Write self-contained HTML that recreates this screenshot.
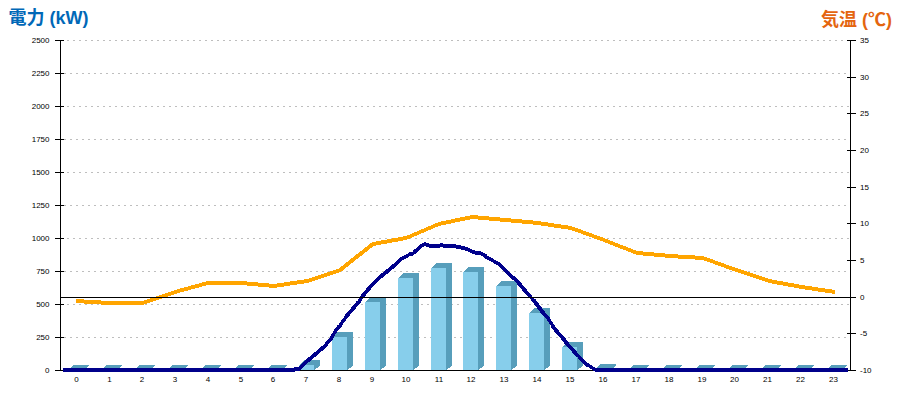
<!DOCTYPE html>
<html><head><meta charset="utf-8"><title>chart</title>
<style>html,body{margin:0;padding:0;background:#fff;}body{width:900px;height:400px;overflow:hidden;font-family:"Liberation Sans",sans-serif;}</style>
</head><body>
<svg width="900" height="400" viewBox="0 0 900 400" style="display:block">
<rect width="900" height="400" fill="#fff"/>
<g shape-rendering="crispEdges" stroke="#bebebe" stroke-width="1" stroke-dasharray="2 4">
<line x1="64" x2="850" y1="337.5" y2="337.5"/>
<line x1="67" x2="850" y1="304.5" y2="304.5"/>
<line x1="64" x2="850" y1="271.5" y2="271.5"/>
<line x1="67" x2="850" y1="238.5" y2="238.5"/>
<line x1="64" x2="850" y1="205.5" y2="205.5"/>
<line x1="67" x2="850" y1="172.5" y2="172.5"/>
<line x1="64" x2="850" y1="139.5" y2="139.5"/>
<line x1="67" x2="850" y1="106.5" y2="106.5"/>
<line x1="64" x2="850" y1="73.5" y2="73.5"/>
<line x1="67" x2="850" y1="40.5" y2="40.5"/>
</g>
<g shape-rendering="crispEdges">
<polygon fill="#579ebb" points="68,370 73.5,365 89.0,365 89.0,365.5 83,370.5 83,370"/>
<rect fill="#87ceeb" x="68" y="370" width="15" height="0.5"/>
<polygon fill="#579ebb" points="101,370 106.5,365 122.0,365 122.0,365.5 116,370.5 116,370"/>
<rect fill="#87ceeb" x="101" y="370" width="15" height="0.5"/>
<polygon fill="#579ebb" points="134,370 139.5,365 155.0,365 155.0,365.5 149,370.5 149,370"/>
<rect fill="#87ceeb" x="134" y="370" width="15" height="0.5"/>
<polygon fill="#579ebb" points="167,370 172.5,365 188.0,365 188.0,365.5 182,370.5 182,370"/>
<rect fill="#87ceeb" x="167" y="370" width="15" height="0.5"/>
<polygon fill="#579ebb" points="200,370 205.5,365 221.0,365 221.0,365.5 215,370.5 215,370"/>
<rect fill="#87ceeb" x="200" y="370" width="15" height="0.5"/>
<polygon fill="#579ebb" points="233,370 238.5,365 254.0,365 254.0,365.5 248,370.5 248,370"/>
<rect fill="#87ceeb" x="233" y="370" width="15" height="0.5"/>
<polygon fill="#579ebb" points="266,370 271.5,365 287.0,365 287.0,365.5 281,370.5 281,370"/>
<rect fill="#87ceeb" x="266" y="370" width="15" height="0.5"/>
<polygon fill="#579ebb" points="299,365 304.5,360 320.0,360 320.0,365.5 314,370.5 314,365"/>
<rect fill="#87ceeb" x="299" y="365" width="15" height="5.5"/>
<polygon fill="#579ebb" points="332,337 337.5,332 353.0,332 353.0,365.5 347,370.5 347,337"/>
<rect fill="#87ceeb" x="332" y="337" width="15" height="33.5"/>
<polygon fill="#579ebb" points="365,302 370.5,297 386.0,297 386.0,365.5 380,370.5 380,302"/>
<rect fill="#87ceeb" x="365" y="302" width="15" height="68.5"/>
<polygon fill="#579ebb" points="398,278 403.5,273 419.0,273 419.0,365.5 413,370.5 413,278"/>
<rect fill="#87ceeb" x="398" y="278" width="15" height="92.5"/>
<polygon fill="#579ebb" points="431,268 436.5,263 452.0,263 452.0,365.5 446,370.5 446,268"/>
<rect fill="#87ceeb" x="431" y="268" width="15" height="102.5"/>
<polygon fill="#579ebb" points="463,272 468.5,267 484.0,267 484.0,365.5 478,370.5 478,272"/>
<rect fill="#87ceeb" x="463" y="272" width="15" height="98.5"/>
<polygon fill="#579ebb" points="496,286 501.5,281 517.0,281 517.0,365.5 511,370.5 511,286"/>
<rect fill="#87ceeb" x="496" y="286" width="15" height="84.5"/>
<polygon fill="#579ebb" points="529,313 534.5,308 550.0,308 550.0,365.5 544,370.5 544,313"/>
<rect fill="#87ceeb" x="529" y="313" width="15" height="57.5"/>
<polygon fill="#579ebb" points="562,347 567.5,342 583.0,342 583.0,365.5 577,370.5 577,347"/>
<rect fill="#87ceeb" x="562" y="347" width="15" height="23.5"/>
<polygon fill="#579ebb" points="595,369 600.5,364 616.0,364 616.0,365.5 610,370.5 610,369"/>
<rect fill="#87ceeb" x="595" y="369" width="15" height="1.5"/>
<polygon fill="#579ebb" points="628,370 633.5,365 649.0,365 649.0,365.5 643,370.5 643,370"/>
<rect fill="#87ceeb" x="628" y="370" width="15" height="0.5"/>
<polygon fill="#579ebb" points="661,370 666.5,365 682.0,365 682.0,365.5 676,370.5 676,370"/>
<rect fill="#87ceeb" x="661" y="370" width="15" height="0.5"/>
<polygon fill="#579ebb" points="694,370 699.5,365 715.0,365 715.0,365.5 709,370.5 709,370"/>
<rect fill="#87ceeb" x="694" y="370" width="15" height="0.5"/>
<polygon fill="#579ebb" points="727,370 732.5,365 748.0,365 748.0,365.5 742,370.5 742,370"/>
<rect fill="#87ceeb" x="727" y="370" width="15" height="0.5"/>
<polygon fill="#579ebb" points="760,370 765.5,365 781.0,365 781.0,365.5 775,370.5 775,370"/>
<rect fill="#87ceeb" x="760" y="370" width="15" height="0.5"/>
<polygon fill="#579ebb" points="793,370 798.5,365 814.0,365 814.0,365.5 808,370.5 808,370"/>
<rect fill="#87ceeb" x="793" y="370" width="15" height="0.5"/>
<polygon fill="#579ebb" points="826,370 831.5,365 847.0,365 847.0,365.5 841,370.5 841,370"/>
<rect fill="#87ceeb" x="826" y="370" width="15" height="0.5"/>
</g>
<g shape-rendering="crispEdges" stroke="#000" stroke-width="1" fill="none">
<line x1="60.5" x2="60.5" y1="40" y2="371"/>
<line x1="850.5" x2="850.5" y1="40" y2="371"/>
<line x1="60" x2="851" y1="370.5" y2="370.5"/>
<line x1="55" x2="64" y1="370.5" y2="370.5"/>
<line x1="55" x2="64" y1="337.5" y2="337.5"/>
<line x1="55" x2="64" y1="304.5" y2="304.5"/>
<line x1="55" x2="64" y1="271.5" y2="271.5"/>
<line x1="55" x2="64" y1="238.5" y2="238.5"/>
<line x1="55" x2="64" y1="205.5" y2="205.5"/>
<line x1="55" x2="64" y1="172.5" y2="172.5"/>
<line x1="55" x2="64" y1="139.5" y2="139.5"/>
<line x1="55" x2="64" y1="106.5" y2="106.5"/>
<line x1="55" x2="64" y1="73.5" y2="73.5"/>
<line x1="55" x2="64" y1="40.5" y2="40.5"/>
<line x1="847" x2="856" y1="370.5" y2="370.5"/>
<line x1="847" x2="856" y1="333.5" y2="333.5"/>
<line x1="847" x2="856" y1="297.5" y2="297.5"/>
<line x1="847" x2="856" y1="260.5" y2="260.5"/>
<line x1="847" x2="856" y1="223.5" y2="223.5"/>
<line x1="847" x2="856" y1="187.5" y2="187.5"/>
<line x1="847" x2="856" y1="150.5" y2="150.5"/>
<line x1="847" x2="856" y1="113.5" y2="113.5"/>
<line x1="847" x2="856" y1="77.5" y2="77.5"/>
<line x1="847" x2="856" y1="40.5" y2="40.5"/>
</g>
<path shape-rendering="crispEdges" fill="#ffa500" fill-rule="nonzero" d="M76.00 299.00L109.00 301.00L109.00 305.00L76.00 303.00ZM109.00 301.00L142.00 301.00L142.00 305.00L109.00 305.00ZM142.00 301.00L175.00 290.00L175.00 294.00L142.00 305.00ZM175.00 290.00L208.00 281.00L208.00 285.00L175.00 294.00ZM208.00 281.00L241.00 281.00L241.00 285.00L208.00 285.00ZM241.00 281.00L274.00 284.00L274.00 288.00L241.00 285.00ZM274.00 284.00L307.00 279.00L307.00 283.00L274.00 288.00ZM307.00 279.00L340.00 268.00L340.00 272.00L307.00 283.00ZM340.00 267.50L373.00 241.50L373.00 246.50L340.00 272.50ZM373.00 242.00L406.00 236.00L406.00 240.00L373.00 246.00ZM406.00 236.00L439.00 222.00L439.00 226.00L406.00 240.00ZM439.00 222.00L472.00 215.00L472.00 219.00L439.00 226.00ZM472.00 215.00L505.00 218.00L505.00 222.00L472.00 219.00ZM505.00 218.00L538.00 221.00L538.00 225.00L505.00 222.00ZM538.00 221.00L571.00 226.00L571.00 230.00L538.00 225.00ZM571.00 226.00L604.00 238.00L604.00 242.00L571.00 230.00ZM604.00 238.00L637.00 251.00L637.00 255.00L604.00 242.00ZM637.00 251.00L670.00 254.00L670.00 258.00L637.00 255.00ZM670.00 254.00L703.00 256.00L703.00 260.00L670.00 258.00ZM703.00 256.00L736.00 268.00L736.00 272.00L703.00 260.00ZM736.00 268.00L769.00 279.00L769.00 283.00L736.00 272.00ZM769.00 279.00L802.00 285.00L802.00 289.00L769.00 283.00ZM802.00 285.00L835.00 290.00L835.00 294.00L802.00 289.00ZM107.25 302.30L108.30 301.25L109.70 301.25L110.75 302.30L110.75 303.70L109.70 304.75L108.30 304.75L107.25 303.70ZM140.25 302.30L141.30 301.25L142.70 301.25L143.75 302.30L143.75 303.70L142.70 304.75L141.30 304.75L140.25 303.70ZM173.25 291.30L174.30 290.25L175.70 290.25L176.75 291.30L176.75 292.70L175.70 293.75L174.30 293.75L173.25 292.70ZM206.25 282.30L207.30 281.25L208.70 281.25L209.75 282.30L209.75 283.70L208.70 284.75L207.30 284.75L206.25 283.70ZM239.25 282.30L240.30 281.25L241.70 281.25L242.75 282.30L242.75 283.70L241.70 284.75L240.30 284.75L239.25 283.70ZM272.25 285.30L273.30 284.25L274.70 284.25L275.75 285.30L275.75 286.70L274.70 287.75L273.30 287.75L272.25 286.70ZM305.25 280.30L306.30 279.25L307.70 279.25L308.75 280.30L308.75 281.70L307.70 282.75L306.30 282.75L305.25 281.70ZM338.25 269.30L339.30 268.25L340.70 268.25L341.75 269.30L341.75 270.70L340.70 271.75L339.30 271.75L338.25 270.70ZM371.25 243.30L372.30 242.25L373.70 242.25L374.75 243.30L374.75 244.70L373.70 245.75L372.30 245.75L371.25 244.70ZM404.25 237.30L405.30 236.25L406.70 236.25L407.75 237.30L407.75 238.70L406.70 239.75L405.30 239.75L404.25 238.70ZM437.25 223.30L438.30 222.25L439.70 222.25L440.75 223.30L440.75 224.70L439.70 225.75L438.30 225.75L437.25 224.70ZM470.25 216.30L471.30 215.25L472.70 215.25L473.75 216.30L473.75 217.70L472.70 218.75L471.30 218.75L470.25 217.70ZM503.25 219.30L504.30 218.25L505.70 218.25L506.75 219.30L506.75 220.70L505.70 221.75L504.30 221.75L503.25 220.70ZM536.25 222.30L537.30 221.25L538.70 221.25L539.75 222.30L539.75 223.70L538.70 224.75L537.30 224.75L536.25 223.70ZM569.25 227.30L570.30 226.25L571.70 226.25L572.75 227.30L572.75 228.70L571.70 229.75L570.30 229.75L569.25 228.70ZM602.25 239.30L603.30 238.25L604.70 238.25L605.75 239.30L605.75 240.70L604.70 241.75L603.30 241.75L602.25 240.70ZM635.25 252.30L636.30 251.25L637.70 251.25L638.75 252.30L638.75 253.70L637.70 254.75L636.30 254.75L635.25 253.70ZM668.25 255.30L669.30 254.25L670.70 254.25L671.75 255.30L671.75 256.70L670.70 257.75L669.30 257.75L668.25 256.70ZM701.25 257.30L702.30 256.25L703.70 256.25L704.75 257.30L704.75 258.70L703.70 259.75L702.30 259.75L701.25 258.70ZM734.25 269.30L735.30 268.25L736.70 268.25L737.75 269.30L737.75 270.70L736.70 271.75L735.30 271.75L734.25 270.70ZM767.25 280.30L768.30 279.25L769.70 279.25L770.75 280.30L770.75 281.70L769.70 282.75L768.30 282.75L767.25 281.70ZM800.25 286.30L801.30 285.25L802.70 285.25L803.75 286.30L803.75 287.70L802.70 288.75L801.30 288.75L800.25 287.70Z"/>
<g shape-rendering="crispEdges">
<rect x="63" y="368" width="232" height="4" fill="#00008b"/>
<rect x="595" y="368" width="253" height="4" fill="#00008b"/>
<path shape-rendering="crispEdges" fill="#00008b" fill-rule="nonzero" d="M293.00 368.00L295.00 367.00L295.00 371.00L293.00 372.00ZM295.00 367.00L299.50 367.00L299.50 371.00L295.00 371.00ZM299.00 366.60L303.00 366.60L301.50 369.00L297.50 369.00ZM301.00 364.10L306.00 359.50L306.00 364.50L301.00 369.10ZM306.00 359.50L312.00 354.50L312.00 359.50L306.00 364.50ZM312.00 354.50L317.50 350.00L317.50 355.00L312.00 359.50ZM317.50 350.00L322.50 345.50L322.50 350.50L317.50 355.00ZM322.50 345.50L327.50 340.50L327.50 345.50L322.50 350.50ZM329.00 338.50L334.00 338.50L330.00 343.00L325.00 343.00ZM331.00 335.00L335.00 335.00L333.50 338.50L329.50 338.50ZM334.50 330.00L338.50 330.00L335.00 335.00L331.00 335.00ZM337.75 325.00L342.75 325.00L339.00 330.00L334.00 330.00ZM341.75 320.00L345.75 320.00L342.25 325.00L338.25 325.00ZM345.10 315.50L349.10 315.50L345.75 320.00L341.75 320.00ZM348.50 311.00L353.50 311.00L349.60 315.50L344.60 315.50ZM352.75 306.00L357.75 306.00L353.50 311.00L348.50 311.00ZM356.75 301.00L361.75 301.00L357.75 306.00L352.75 306.00ZM360.00 296.70L364.00 296.70L361.25 301.00L357.25 301.00ZM363.75 292.00L368.75 292.00L364.50 296.70L359.50 296.70ZM367.50 287.00L372.50 287.00L368.75 292.00L363.75 292.00ZM372.40 282.00L377.40 282.00L372.50 287.00L367.50 287.00ZM374.90 279.50L379.50 275.00L379.50 280.00L374.90 284.50ZM379.50 275.00L385.25 270.50L385.25 275.50L379.50 280.00ZM385.25 270.50L391.25 265.50L391.25 270.50L385.25 275.50ZM391.25 265.50L397.00 260.50L397.00 265.50L391.25 270.50ZM397.50 259.70L402.50 259.70L399.50 263.00L394.50 263.00ZM400.00 257.70L403.00 256.00L403.00 260.00L400.00 261.70ZM403.00 256.00L405.00 255.00L405.00 259.00L403.00 260.00ZM405.00 255.00L410.00 252.10L410.00 256.10L405.00 259.00ZM410.00 252.10L412.50 251.75L412.50 255.75L410.00 256.10ZM412.50 251.25L415.00 249.00L415.00 254.00L412.50 256.25ZM415.00 249.00L417.50 247.00L417.50 252.00L415.00 254.00ZM417.50 246.50L422.50 246.50L420.00 249.50L415.00 249.50ZM420.00 244.50L422.50 243.00L422.50 247.00L420.00 248.50ZM422.50 243.00L425.00 242.00L425.00 246.00L422.50 247.00ZM425.00 242.00L427.50 243.00L427.50 247.00L425.00 246.00ZM427.50 243.00L430.00 244.00L430.00 248.00L427.50 247.00ZM430.00 244.00L438.00 244.00L438.00 248.00L430.00 248.00ZM438.00 244.00L441.50 243.00L441.50 247.00L438.00 248.00ZM441.50 243.00L445.00 244.00L445.00 248.00L441.50 247.00ZM445.00 244.00L454.00 244.00L454.00 248.00L445.00 248.00ZM454.00 244.00L458.00 245.00L458.00 249.00L454.00 248.00ZM458.00 245.00L463.00 246.00L463.00 250.00L458.00 249.00ZM463.00 246.00L466.50 247.00L466.50 251.00L463.00 250.00ZM466.50 247.00L469.00 248.00L469.00 252.00L466.50 251.00ZM469.00 248.00L471.00 249.00L471.00 253.00L469.00 252.00ZM471.00 249.00L473.00 250.00L473.00 254.00L471.00 253.00ZM473.00 250.00L476.00 251.00L476.00 255.00L473.00 254.00ZM476.00 251.00L480.00 251.00L480.00 255.00L476.00 255.00ZM480.00 251.00L482.00 252.00L482.00 256.00L480.00 255.00ZM482.00 252.00L484.00 253.00L484.00 257.00L482.00 256.00ZM484.00 252.50L486.50 254.50L486.50 259.50L484.00 257.50ZM486.50 255.00L489.50 257.00L489.50 261.00L486.50 259.00ZM489.50 257.00L492.50 258.50L492.50 262.50L489.50 261.00ZM492.50 258.50L495.50 260.50L495.50 264.50L492.50 262.50ZM495.50 260.50L498.50 262.00L498.50 266.00L495.50 264.50ZM498.50 261.50L500.00 262.75L500.00 267.75L498.50 266.50ZM500.00 262.75L502.50 265.00L502.50 270.00L500.00 267.75ZM502.50 265.00L505.00 267.50L505.00 272.50L502.50 270.00ZM505.00 267.50L507.50 269.75L507.50 274.75L505.00 272.50ZM507.50 269.75L510.00 272.25L510.00 277.25L507.50 274.75ZM510.00 272.25L512.50 274.50L512.50 279.50L510.00 277.25ZM512.50 275.00L515.50 277.00L515.50 281.00L512.50 279.00ZM513.00 279.00L518.00 279.00L522.00 284.00L517.00 284.00ZM517.00 284.00L522.00 284.00L526.25 289.00L521.25 289.00ZM521.25 289.00L526.25 289.00L530.25 294.00L525.25 294.00ZM527.75 291.50L532.30 296.00L532.30 301.00L527.75 296.50ZM529.80 298.50L534.80 298.50L538.25 303.00L533.25 303.00ZM533.25 303.00L538.25 303.00L542.00 308.00L537.00 308.00ZM537.00 308.00L542.00 308.00L545.75 313.00L540.75 313.00ZM540.75 313.00L545.75 313.00L549.75 317.50L544.75 317.50ZM545.25 317.50L549.25 317.50L552.25 322.00L548.25 322.00ZM548.25 322.00L552.25 322.00L555.50 327.00L551.50 327.00ZM551.00 327.00L556.00 327.00L559.75 332.00L554.75 332.00ZM554.75 332.00L559.75 332.00L564.10 336.50L559.10 336.50ZM559.10 336.50L564.10 336.50L567.50 341.00L562.50 341.00ZM562.50 341.00L567.50 341.00L571.50 346.00L566.50 346.00ZM566.50 346.00L571.50 346.00L576.25 351.00L571.25 351.00ZM571.25 351.00L576.25 351.00L580.00 355.50L575.00 355.50ZM577.50 353.00L581.25 356.50L581.25 361.50L577.50 358.00ZM581.25 356.50L586.50 361.50L586.50 366.50L581.25 361.50ZM586.50 362.00L591.50 365.30L591.50 369.30L586.50 366.00ZM591.50 365.30L595.50 368.00L595.50 372.00L591.50 369.30ZM595.50 368.00L598.00 368.00L598.00 372.00L595.50 372.00ZM293.25 368.30L294.30 367.25L295.70 367.25L296.75 368.30L296.75 369.70L295.70 370.75L294.30 370.75L293.25 369.70ZM297.75 368.30L298.80 367.25L300.20 367.25L301.25 368.30L301.25 369.70L300.20 370.75L298.80 370.75L297.75 369.70ZM299.25 365.90L300.30 364.85L301.70 364.85L302.75 365.90L302.75 367.30L301.70 368.35L300.30 368.35L299.25 367.30ZM304.25 361.30L305.30 360.25L306.70 360.25L307.75 361.30L307.75 362.70L306.70 363.75L305.30 363.75L304.25 362.70ZM310.25 356.30L311.30 355.25L312.70 355.25L313.75 356.30L313.75 357.70L312.70 358.75L311.30 358.75L310.25 357.70ZM315.75 351.80L316.80 350.75L318.20 350.75L319.25 351.80L319.25 353.20L318.20 354.25L316.80 354.25L315.75 353.20ZM320.75 347.30L321.80 346.25L323.20 346.25L324.25 347.30L324.25 348.70L323.20 349.75L321.80 349.75L320.75 348.70ZM325.75 342.30L326.80 341.25L328.20 341.25L329.25 342.30L329.25 343.70L328.20 344.75L326.80 344.75L325.75 343.70ZM329.75 337.80L330.80 336.75L332.20 336.75L333.25 337.80L333.25 339.20L332.20 340.25L330.80 340.25L329.75 339.20ZM331.25 334.30L332.30 333.25L333.70 333.25L334.75 334.30L334.75 335.70L333.70 336.75L332.30 336.75L331.25 335.70ZM334.75 329.30L335.80 328.25L337.20 328.25L338.25 329.30L338.25 330.70L337.20 331.75L335.80 331.75L334.75 330.70ZM338.50 324.30L339.55 323.25L340.95 323.25L342.00 324.30L342.00 325.70L340.95 326.75L339.55 326.75L338.50 325.70ZM342.00 319.30L343.05 318.25L344.45 318.25L345.50 319.30L345.50 320.70L344.45 321.75L343.05 321.75L342.00 320.70ZM345.35 314.80L346.40 313.75L347.80 313.75L348.85 314.80L348.85 316.20L347.80 317.25L346.40 317.25L345.35 316.20ZM349.25 310.30L350.30 309.25L351.70 309.25L352.75 310.30L352.75 311.70L351.70 312.75L350.30 312.75L349.25 311.70ZM353.50 305.30L354.55 304.25L355.95 304.25L357.00 305.30L357.00 306.70L355.95 307.75L354.55 307.75L353.50 306.70ZM357.50 300.30L358.55 299.25L359.95 299.25L361.00 300.30L361.00 301.70L359.95 302.75L358.55 302.75L357.50 301.70ZM360.25 296.00L361.30 294.95L362.70 294.95L363.75 296.00L363.75 297.40L362.70 298.45L361.30 298.45L360.25 297.40ZM364.50 291.30L365.55 290.25L366.95 290.25L368.00 291.30L368.00 292.70L366.95 293.75L365.55 293.75L364.50 292.70ZM368.25 286.30L369.30 285.25L370.70 285.25L371.75 286.30L371.75 287.70L370.70 288.75L369.30 288.75L368.25 287.70ZM373.15 281.30L374.20 280.25L375.60 280.25L376.65 281.30L376.65 282.70L375.60 283.75L374.20 283.75L373.15 282.70ZM377.75 276.80L378.80 275.75L380.20 275.75L381.25 276.80L381.25 278.20L380.20 279.25L378.80 279.25L377.75 278.20ZM383.50 272.30L384.55 271.25L385.95 271.25L387.00 272.30L387.00 273.70L385.95 274.75L384.55 274.75L383.50 273.70ZM389.50 267.30L390.55 266.25L391.95 266.25L393.00 267.30L393.00 268.70L391.95 269.75L390.55 269.75L389.50 268.70ZM395.25 262.30L396.30 261.25L397.70 261.25L398.75 262.30L398.75 263.70L397.70 264.75L396.30 264.75L395.25 263.70ZM398.25 259.00L399.30 257.95L400.70 257.95L401.75 259.00L401.75 260.40L400.70 261.45L399.30 261.45L398.25 260.40ZM401.25 257.30L402.30 256.25L403.70 256.25L404.75 257.30L404.75 258.70L403.70 259.75L402.30 259.75L401.25 258.70ZM403.25 256.30L404.30 255.25L405.70 255.25L406.75 256.30L406.75 257.70L405.70 258.75L404.30 258.75L403.25 257.70ZM408.25 253.40L409.30 252.35L410.70 252.35L411.75 253.40L411.75 254.80L410.70 255.85L409.30 255.85L408.25 254.80ZM410.75 253.05L411.80 252.00L413.20 252.00L414.25 253.05L414.25 254.45L413.20 255.50L411.80 255.50L410.75 254.45ZM413.25 250.80L414.30 249.75L415.70 249.75L416.75 250.80L416.75 252.20L415.70 253.25L414.30 253.25L413.25 252.20ZM415.75 248.80L416.80 247.75L418.20 247.75L419.25 248.80L419.25 250.20L418.20 251.25L416.80 251.25L415.75 250.20ZM418.25 245.80L419.30 244.75L420.70 244.75L421.75 245.80L421.75 247.20L420.70 248.25L419.30 248.25L418.25 247.20ZM420.75 244.30L421.80 243.25L423.20 243.25L424.25 244.30L424.25 245.70L423.20 246.75L421.80 246.75L420.75 245.70ZM423.25 243.30L424.30 242.25L425.70 242.25L426.75 243.30L426.75 244.70L425.70 245.75L424.30 245.75L423.25 244.70ZM425.75 244.30L426.80 243.25L428.20 243.25L429.25 244.30L429.25 245.70L428.20 246.75L426.80 246.75L425.75 245.70ZM428.25 245.30L429.30 244.25L430.70 244.25L431.75 245.30L431.75 246.70L430.70 247.75L429.30 247.75L428.25 246.70ZM436.25 245.30L437.30 244.25L438.70 244.25L439.75 245.30L439.75 246.70L438.70 247.75L437.30 247.75L436.25 246.70ZM439.75 244.30L440.80 243.25L442.20 243.25L443.25 244.30L443.25 245.70L442.20 246.75L440.80 246.75L439.75 245.70ZM443.25 245.30L444.30 244.25L445.70 244.25L446.75 245.30L446.75 246.70L445.70 247.75L444.30 247.75L443.25 246.70ZM452.25 245.30L453.30 244.25L454.70 244.25L455.75 245.30L455.75 246.70L454.70 247.75L453.30 247.75L452.25 246.70ZM456.25 246.30L457.30 245.25L458.70 245.25L459.75 246.30L459.75 247.70L458.70 248.75L457.30 248.75L456.25 247.70ZM461.25 247.30L462.30 246.25L463.70 246.25L464.75 247.30L464.75 248.70L463.70 249.75L462.30 249.75L461.25 248.70ZM464.75 248.30L465.80 247.25L467.20 247.25L468.25 248.30L468.25 249.70L467.20 250.75L465.80 250.75L464.75 249.70ZM467.25 249.30L468.30 248.25L469.70 248.25L470.75 249.30L470.75 250.70L469.70 251.75L468.30 251.75L467.25 250.70ZM469.25 250.30L470.30 249.25L471.70 249.25L472.75 250.30L472.75 251.70L471.70 252.75L470.30 252.75L469.25 251.70ZM471.25 251.30L472.30 250.25L473.70 250.25L474.75 251.30L474.75 252.70L473.70 253.75L472.30 253.75L471.25 252.70ZM474.25 252.30L475.30 251.25L476.70 251.25L477.75 252.30L477.75 253.70L476.70 254.75L475.30 254.75L474.25 253.70ZM478.25 252.30L479.30 251.25L480.70 251.25L481.75 252.30L481.75 253.70L480.70 254.75L479.30 254.75L478.25 253.70ZM480.25 253.30L481.30 252.25L482.70 252.25L483.75 253.30L483.75 254.70L482.70 255.75L481.30 255.75L480.25 254.70ZM482.25 254.30L483.30 253.25L484.70 253.25L485.75 254.30L485.75 255.70L484.70 256.75L483.30 256.75L482.25 255.70ZM484.75 256.30L485.80 255.25L487.20 255.25L488.25 256.30L488.25 257.70L487.20 258.75L485.80 258.75L484.75 257.70ZM487.75 258.30L488.80 257.25L490.20 257.25L491.25 258.30L491.25 259.70L490.20 260.75L488.80 260.75L487.75 259.70ZM490.75 259.80L491.80 258.75L493.20 258.75L494.25 259.80L494.25 261.20L493.20 262.25L491.80 262.25L490.75 261.20ZM493.75 261.80L494.80 260.75L496.20 260.75L497.25 261.80L497.25 263.20L496.20 264.25L494.80 264.25L493.75 263.20ZM496.75 263.30L497.80 262.25L499.20 262.25L500.25 263.30L500.25 264.70L499.20 265.75L497.80 265.75L496.75 264.70ZM498.25 264.55L499.30 263.50L500.70 263.50L501.75 264.55L501.75 265.95L500.70 267.00L499.30 267.00L498.25 265.95ZM500.75 266.80L501.80 265.75L503.20 265.75L504.25 266.80L504.25 268.20L503.20 269.25L501.80 269.25L500.75 268.20ZM503.25 269.30L504.30 268.25L505.70 268.25L506.75 269.30L506.75 270.70L505.70 271.75L504.30 271.75L503.25 270.70ZM505.75 271.55L506.80 270.50L508.20 270.50L509.25 271.55L509.25 272.95L508.20 274.00L506.80 274.00L505.75 272.95ZM508.25 274.05L509.30 273.00L510.70 273.00L511.75 274.05L511.75 275.45L510.70 276.50L509.30 276.50L508.25 275.45ZM510.75 276.30L511.80 275.25L513.20 275.25L514.25 276.30L514.25 277.70L513.20 278.75L511.80 278.75L510.75 277.70ZM513.75 278.30L514.80 277.25L516.20 277.25L517.25 278.30L517.25 279.70L516.20 280.75L514.80 280.75L513.75 279.70ZM517.75 283.30L518.80 282.25L520.20 282.25L521.25 283.30L521.25 284.70L520.20 285.75L518.80 285.75L517.75 284.70ZM522.00 288.30L523.05 287.25L524.45 287.25L525.50 288.30L525.50 289.70L524.45 290.75L523.05 290.75L522.00 289.70ZM526.00 293.30L527.05 292.25L528.45 292.25L529.50 293.30L529.50 294.70L528.45 295.75L527.05 295.75L526.00 294.70ZM530.55 297.80L531.60 296.75L533.00 296.75L534.05 297.80L534.05 299.20L533.00 300.25L531.60 300.25L530.55 299.20ZM534.00 302.30L535.05 301.25L536.45 301.25L537.50 302.30L537.50 303.70L536.45 304.75L535.05 304.75L534.00 303.70ZM537.75 307.30L538.80 306.25L540.20 306.25L541.25 307.30L541.25 308.70L540.20 309.75L538.80 309.75L537.75 308.70ZM541.50 312.30L542.55 311.25L543.95 311.25L545.00 312.30L545.00 313.70L543.95 314.75L542.55 314.75L541.50 313.70ZM545.50 316.80L546.55 315.75L547.95 315.75L549.00 316.80L549.00 318.20L547.95 319.25L546.55 319.25L545.50 318.20ZM548.50 321.30L549.55 320.25L550.95 320.25L552.00 321.30L552.00 322.70L550.95 323.75L549.55 323.75L548.50 322.70ZM551.75 326.30L552.80 325.25L554.20 325.25L555.25 326.30L555.25 327.70L554.20 328.75L552.80 328.75L551.75 327.70ZM555.50 331.30L556.55 330.25L557.95 330.25L559.00 331.30L559.00 332.70L557.95 333.75L556.55 333.75L555.50 332.70ZM559.85 335.80L560.90 334.75L562.30 334.75L563.35 335.80L563.35 337.20L562.30 338.25L560.90 338.25L559.85 337.20ZM563.25 340.30L564.30 339.25L565.70 339.25L566.75 340.30L566.75 341.70L565.70 342.75L564.30 342.75L563.25 341.70ZM567.25 345.30L568.30 344.25L569.70 344.25L570.75 345.30L570.75 346.70L569.70 347.75L568.30 347.75L567.25 346.70ZM572.00 350.30L573.05 349.25L574.45 349.25L575.50 350.30L575.50 351.70L574.45 352.75L573.05 352.75L572.00 351.70ZM575.75 354.80L576.80 353.75L578.20 353.75L579.25 354.80L579.25 356.20L578.20 357.25L576.80 357.25L575.75 356.20ZM579.50 358.30L580.55 357.25L581.95 357.25L583.00 358.30L583.00 359.70L581.95 360.75L580.55 360.75L579.50 359.70ZM584.75 363.30L585.80 362.25L587.20 362.25L588.25 363.30L588.25 364.70L587.20 365.75L585.80 365.75L584.75 364.70ZM589.75 366.60L590.80 365.55L592.20 365.55L593.25 366.60L593.25 368.00L592.20 369.05L590.80 369.05L589.75 368.00ZM593.75 369.30L594.80 368.25L596.20 368.25L597.25 369.30L597.25 370.70L596.20 371.75L594.80 371.75L593.75 370.70Z"/>
</g>
<line shape-rendering="crispEdges" stroke="#000" stroke-width="1" x1="60" x2="856" y1="297.5" y2="297.5"/>
<g font-family="'Liberation Sans', sans-serif" font-size="8" fill="#000" text-anchor="end">
<text x="49.5" y="373">0</text>
<text x="49.5" y="340">250</text>
<text x="49.5" y="307">500</text>
<text x="49.5" y="274">750</text>
<text x="49.5" y="241">1000</text>
<text x="49.5" y="208">1250</text>
<text x="49.5" y="175">1500</text>
<text x="49.5" y="142">1750</text>
<text x="49.5" y="109">2000</text>
<text x="49.5" y="76">2250</text>
<text x="49.5" y="43">2500</text>
</g>
<g font-family="'Liberation Sans', sans-serif" font-size="8" fill="#000" text-anchor="start">
<text x="860" y="373">-10</text>
<text x="860" y="336">-5</text>
<text x="860" y="300">0</text>
<text x="860" y="263">5</text>
<text x="860" y="226">10</text>
<text x="860" y="190">15</text>
<text x="860" y="153">20</text>
<text x="860" y="116">25</text>
<text x="860" y="80">30</text>
<text x="860" y="43">35</text>
</g>
<g font-family="'Liberation Sans', sans-serif" font-size="8" fill="#000" text-anchor="middle">
<text x="76.500" y="382">0</text>
<text x="109.500" y="382">1</text>
<text x="142" y="382">2</text>
<text x="175" y="382">3</text>
<text x="208" y="382">4</text>
<text x="241" y="382">5</text>
<text x="273" y="382">6</text>
<text x="306" y="382">7</text>
<text x="339" y="382">8</text>
<text x="372" y="382">9</text>
<text x="406" y="382">10</text>
<text x="439" y="382">11</text>
<text x="471" y="382">12</text>
<text x="504" y="382">13</text>
<text x="537" y="382">14</text>
<text x="570" y="382">15</text>
<text x="603" y="382">16</text>
<text x="636" y="382">17</text>
<text x="669" y="382">18</text>
<text x="702" y="382">19</text>
<text x="734.500" y="382">20</text>
<text x="767.500" y="382">21</text>
<text x="800.500" y="382">22</text>
<text x="833.500" y="382">23</text>
</g>
<text x="8.500" y="24" font-family="'Liberation Sans', 'Noto Sans CJK JP', sans-serif" font-size="18" font-weight="bold" fill="#0068b7">電力 (kW)</text>
<text x="821" y="26" font-family="'Liberation Sans', 'Noto Sans CJK JP', sans-serif" font-size="18" font-weight="bold" fill="#e4650f">気温 (℃)</text>
</svg>
</body></html>
